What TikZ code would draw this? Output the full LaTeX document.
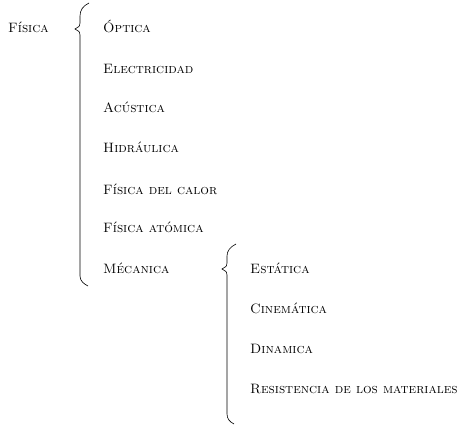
\documentclass[tikz,border=0pt]{standalone}
\usepackage{fontspec}
\usetikzlibrary{positioning}

\begin{document}
\begin{tikzpicture}[x=1pt,y=-1pt,every node/.style={anchor=base west,inner sep=0pt,font=\fontsize{13.6}{15}\selectfont\scshape}]
  \useasboundingbox (0,0) rectangle (466,425);

  \node (fisica) at (8,33) {Física};

  \node (optica) at (103,33) {Óptica};
  \node (elec) at (103,74) {Electricidad};
  \node (acus) at (103,113) {Acústica};
  \node (hidr) at (103,153) {Hidráulica};
  \node (calor) at (103,194) {Física del calor};
  \node (atom) at (103,233) {Física atómica};
  \node (meca) at (103,273) {Mécanica};

  \node (esta) at (250,273) {Estática};
  \node (cine) at (250,313) {Cinemática};
  \node (dina) at (250,353) {Dinamica};
  \node (resi) at (250,393) {Resistencia de los materiales};

  % llaves
  \draw[semithick] (89,3) .. controls (83,6) and (80,10) .. (80,16) -- (80,23) .. controls (80,26) .. (75,29) .. controls (80,32) .. (80,35) -- (80,276) .. controls (80,281) and (84,284) .. (88,286);
  \draw[semithick] (236,244) .. controls (230,247) and (227,251) .. (227,256) -- (227,263) .. controls (227,266) .. (222,269) .. controls (227,272) .. (227,275) -- (227,414) .. controls (227,419) and (230,422) .. (234,424);
\end{tikzpicture}
\end{document}
